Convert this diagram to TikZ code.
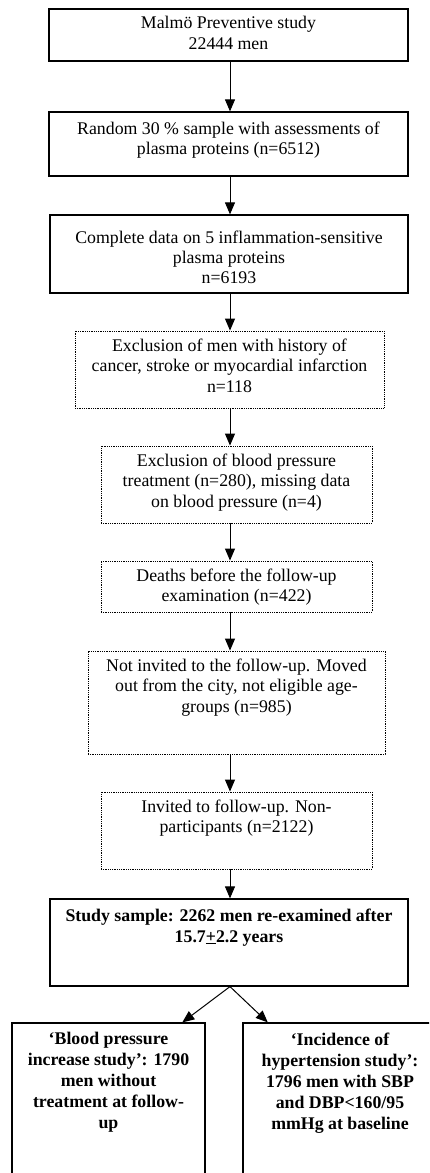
\documentclass[tikz,border=0pt]{standalone}
\usepackage{fontspec}
\setmainfont{Liberation Serif}
\usetikzlibrary{arrows.meta, positioning, calc}

\begin{document}
\begin{tikzpicture}[x=1pt, y=-1pt,
        solidbox/.style={draw, line width=1.2pt, inner sep=0pt},
        dotbox/.style={draw, line width=0.9pt, dash pattern=on 0.9pt off 0.9pt, inner sep=0pt},
        boxtext/.style={anchor=north, inner sep=0pt, align=center, font=\fontsize{17.8}{20.4}\selectfont},
        boldtext/.style={boxtext, font=\fontsize{17.8}{21}\selectfont\bfseries},
        arr/.style={-{Triangle[width=10pt, length=12pt]}, line width=1pt}]
        % Frame
        \useasboundingbox (0,0) rectangle (429,1173);
        \clip (0,0) rectangle (429,1173);
        \coordinate (axis) at (230,0);

        % Boxes
        \node[solidbox, minimum width=359pt, minimum height=52pt] (b1) at (228.5,35) {};
        \node[solidbox, minimum width=359pt, minimum height=64pt] (b2) at (228.5,144) {};
        \node[solidbox, minimum width=358pt, minimum height=78pt] (b3) at (229,254) {};
        \node[dotbox, minimum width=309pt, minimum height=77pt] (b4) at (229.5,369.5) {};
        \node[dotbox, minimum width=271pt, minimum height=77pt] (b5) at (236.5,484.5) {};
        \node[dotbox, minimum width=271pt, minimum height=51pt] (b6) at (236.5,586.5) {};
        \node[dotbox, minimum width=297pt, minimum height=103pt] (b7) at (236.5,702.5) {};
        \node[dotbox, minimum width=271pt, minimum height=77pt] (b8) at (236.5,830.5) {};
        \node[solidbox, minimum width=358pt, minimum height=87pt] (b9) at (229,942.5) {};
        \node[solidbox, minimum width=193pt, minimum height=200pt] (b10) at (108.5,1123) {};
        \node[solidbox, minimum width=194pt, minimum height=200pt] (b11) at (340,1123) {};

        % Texts
        \node[boxtext] (t1) at ([yshift=-8pt]b1.north) {Malmö Preventive study\\22444 men};
        \node[boxtext] (t2) at ([yshift=-10pt]b2.north) {Random 30 \% sample with assessments of\\plasma proteins (n=6512)};
        \node[boxtext] (t3) at ([yshift=-16pt]b3.north) {Complete data on 5 inflammation-sensitive\\plasma proteins\\n=6193};
        \node[boxtext] (t4) at ([yshift=-8pt]b4.north) {Exclusion of men with history of\\cancer, stroke or myocardial infarction\\n=118};
        \node[boxtext] (t5) at ([yshift=-8pt]b5.north) {Exclusion of blood pressure\\treatment (n=280), missing data\\on blood pressure (n=4)};
        \node[boxtext] (t6) at ([yshift=-8pt]b6.north) {Deaths before the follow-up\\examination (n=422)};
        \node[boxtext] (t7) at ([yshift=-8pt]b7.north) {Not invited to the follow-up. Moved\\out from the city, not eligible age-\\groups (n=985)};
        \node[boxtext] (t8) at ([yshift=-8pt]b8.north) {Invited to follow-up. Non-\\participants (n=2122)};
        \node[boldtext] (t9) at ([yshift=-10pt]b9.north) {Study sample: 2262 men re-examined after\\15.7\underline{+}2.2 years};
        \node[boldtext] (t10) at ([yshift=-10pt]b10.north) {‘Blood pressure\\increase study’: 1790\\men without\\treatment at follow-\\up};
        \node[boldtext] (t11) at ([yshift=-10pt]b11.north) {‘Incidence of\\hypertension study’:\\1796 men with SBP\\and DBP<160/95\\mmHg at baseline};

        % Arrows
        \draw[arr] (b1.south -| axis) -- (b2.north -| axis);
        \draw[arr] (b2.south -| axis) -- (b3.north -| axis);
        \draw[arr] (b3.south -| axis) -- (b4.north -| axis);
        \draw[arr] (b4.south -| axis) -- (b5.north -| axis);
        \draw[arr] (b5.south -| axis) -- (b6.north -| axis);
        \draw[arr] (b6.south -| axis) -- (b7.north -| axis);
        \draw[arr] (b7.south -| axis) -- (b8.north -| axis);
        \draw[arr] (b8.south -| axis) -- (b9.north -| axis);
        \draw[arr] (b9.south -| axis) -- ($(b10.north west)!0.88!(b10.north east)$);
        \draw[arr] (b9.south -| axis) -- ($(b11.north west)!0.13!(b11.north east)$);
\end{tikzpicture}
\end{document}
